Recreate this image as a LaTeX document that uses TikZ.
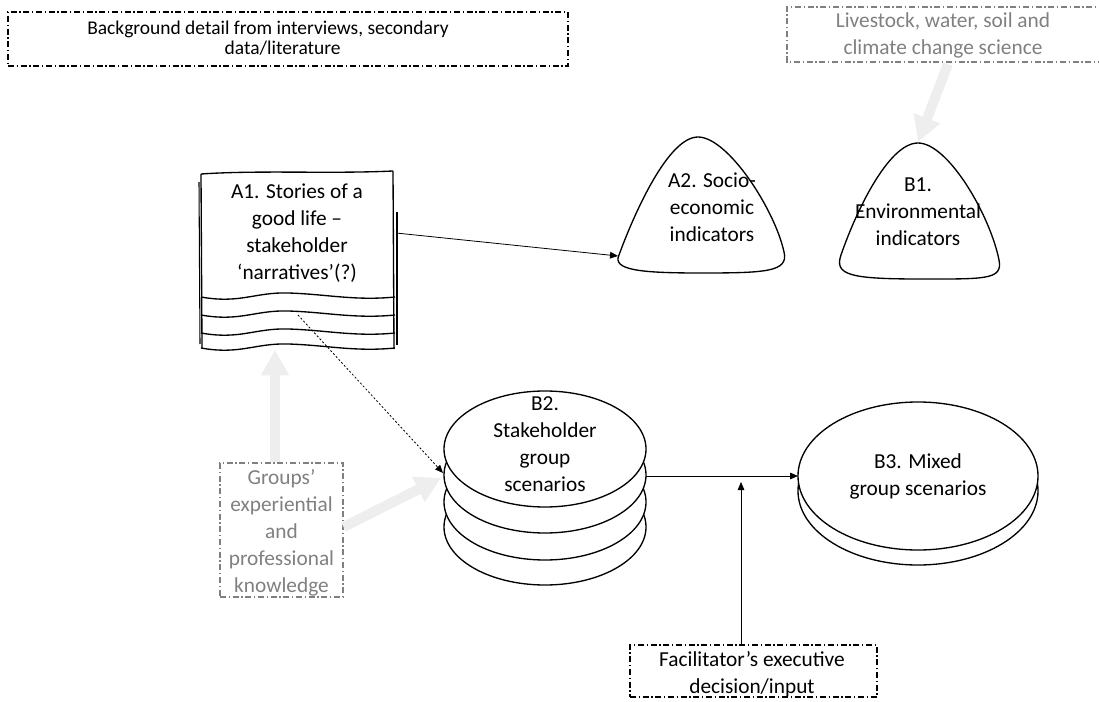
\documentclass[tikz,border=0pt]{standalone}
\usepackage{fontspec}
\setmainfont{Carlito}
\usetikzlibrary{arrows.meta}
\definecolor{txtgray}{RGB}{128,128,128}
\definecolor{fatgray}{RGB}{238,238,238}
\begin{document}
\begin{tikzpicture}[x=0.75pt,y=-0.75pt,
  lbl/.style={font=\fontsize{16}{20.3}\selectfont, align=center, inner sep=0pt},
  ddbox/.style={line width=0.8pt, dash pattern=on 4.5pt off 2pt on 1pt off 2pt},
  fat/.style={draw=fatgray, line width=7.5pt, -{Triangle[length=19pt,width=20pt]}},
  conn/.style={line width=0.6pt, -{Triangle[length=6pt,width=5pt]}},
  shp/.style={draw, line width=1pt, fill=white}]
\useasboundingbox (0,0) rectangle (1099,702);

% ---- top boxes
\node[draw, ddbox, minimum width=420pt, minimum height=40.5pt, inner sep=0pt] (bgbox) at (288,39) {};
\node[lbl, font=\fontsize{14.6}{15.5}\selectfont] (bg) at (268,38) {Background detail from interviews, secondary\\\hspace*{22pt}data/literature};

\draw[ddbox, draw=txtgray] (1105,7) -- (787,7) -- (787,62) -- (1105,62);
\node[lbl, text=txtgray] (sci) at (943,35) {Livestock, water, soil and\\climate change science};

% ---- A1 document stack
\draw[line width=1pt] (201,174) .. controls (260,170) and (330,174) .. (393,171);
\draw[line width=1pt] (201,174) -- (202,348);
\draw[line width=0.8pt] (199,182) -- (200,344);
\draw[line width=1pt] (393,171) -- (394,349);
\draw[line width=0.8pt] (397,212) -- (397,345);
\foreach \y in {297,315,333,348}{
  \draw[line width=1pt] (201,\y) .. controls (240,\y+7) and (255,\y-5) .. (288,\y-4)
    .. controls (325,\y-3) and (355,\y+4) .. (395,\y);
}
\node[lbl] (a1) at (297,233) {A1. Stories of a\\good life –\\stakeholder\\‘narratives’(?)};

% ---- A2 triangle
\draw[shp] (619,255) .. controls (634,214) and (668,137) .. (698,137)
  .. controls (728,137) and (775,210) .. (784,252)
  .. controls (789,272) and (765,273) .. (700,273)
  .. controls (640,273) and (612,270) .. (619,255) -- cycle;
\node[lbl] (a2) at (712,207) {A2. Socio-\\economic\\indicators};

% ---- B1 triangle
\draw[shp] (841,255) .. controls (855,214) and (888,143) .. (918,143)
  .. controls (948,143) and (990,215) .. (999,260)
  .. controls (1003,280) and (985,279) .. (920,279)
  .. controls (850,279) and (834,275) .. (841,255) -- cycle;
\node[lbl] (b1) at (918,212) {B1.\\Environmental\\indicators};

% ---- B2 stacked disks
\foreach \cy in {527,502,475,449}{
  \draw[shp] (545,\cy) ellipse [x radius=75.75pt, y radius=43.5pt];
}
\node[lbl] (b2) at (545,444) {B2.\\Stakeholder\\group\\scenarios};

% ---- B3 disks
\foreach \cy in {491,476}{
  \draw[shp] (918,\cy) ellipse [x radius=90pt, y radius=55.5pt];
}
\node[lbl] (b3) at (918,476) {B3. Mixed\\group scenarios};

% ---- lower boxes
\node[draw, ddbox, draw=txtgray, minimum width=92.25pt, minimum height=100.5pt, inner sep=0pt] (grpbox) at (281.5,530) {};
\node[lbl, text=txtgray] (grp) at (281.5,533) {Groups’\\experiential\\and\\professional\\knowledge};

\node[draw, ddbox, minimum width=185.25pt, minimum height=39pt, inner sep=0pt] (facbox) at (753.5,671) {};
\node[lbl] (fac) at (752,674) {Facilitator’s executive\\decision/input};

% ---- anchor coordinates
\coordinate (a1r) at (396,233);
\coordinate (a2l) at (618,256);
\coordinate (a1w) at (298,315);
\coordinate (b2l) at (443,473);
\coordinate (b2r) at (646,476);
\coordinate (b3l) at (798,476);
\coordinate (tip) at (741,482);
\coordinate (sciout) at (948,64);
\coordinate (b1top) at (918,142);
\coordinate (a1b) at (275,350);
\coordinate (b2lf) at (441,478);

% ---- connectors
\draw[conn] (a1r) -- (a2l);
\draw[conn, dash pattern=on 1.5pt off 1.5pt] (a1w) -- (b2l);
\draw[conn] (b2r) -- (b3l);
\draw[conn] (facbox.north -| tip) -- (tip);

\draw[fat] (sciout) -- (b1top);
\draw[fat] (grpbox.north -| a1b) -- (a1b);
\draw[fat] (grpbox.east |- 0,527) -- (b2lf);
\end{tikzpicture}
\end{document}
